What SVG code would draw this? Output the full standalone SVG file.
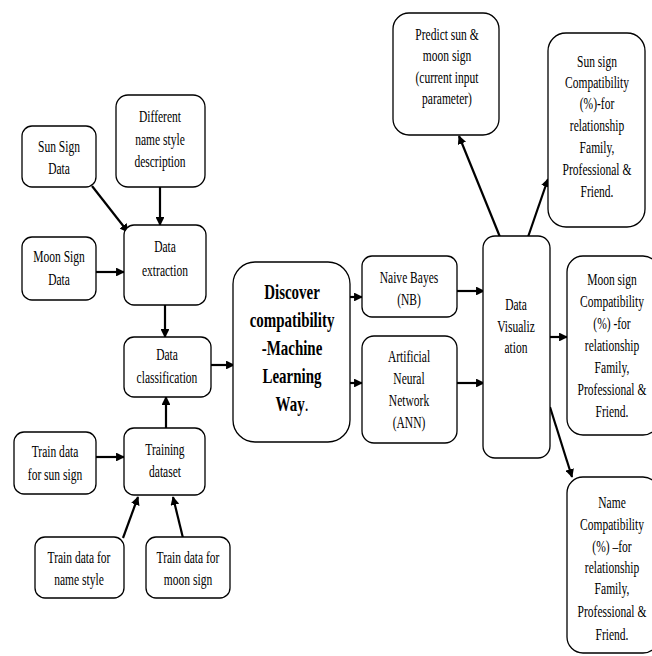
<svg xmlns="http://www.w3.org/2000/svg" width="652" height="656" viewBox="0 0 652 656">
<defs>
<style>
.box{fill:#fff;stroke:#000;stroke-width:1.3}
.t{font-family:"Liberation Serif","Times New Roman","DejaVu Serif",serif;font-size:16px;text-anchor:middle;fill:#000}
.b{font-family:"Liberation Serif","Times New Roman","DejaVu Serif",serif;font-size:22px;font-weight:bold;text-anchor:middle;fill:#000}
.c{stroke:#000;stroke-width:2.2;fill:none;marker-end:url(#ah)}
</style>
<marker id="ah" viewBox="0 0 10 10" refX="9" refY="5" markerWidth="4" markerHeight="4" orient="auto" markerUnits="strokeWidth">
<path d="M0,0 L10,5 L0,10 z" fill="#000"/>
</marker>
</defs>
<rect width="652" height="656" fill="#fff"/>
<g id="connectors">
<line class="c" x1="92" y1="186" x2="128" y2="232"/>
<line class="c" x1="160" y1="187" x2="160" y2="225"/>
<line class="c" x1="96" y1="272" x2="124" y2="272"/>
<line class="c" x1="165" y1="305" x2="165" y2="337"/>
<line class="c" x1="166" y1="428" x2="166" y2="397"/>
<line class="c" x1="96" y1="457" x2="124" y2="457"/>
<line class="c" x1="123" y1="538" x2="138" y2="497"/>
<line class="c" x1="183" y1="538" x2="173" y2="497"/>
<line class="c" x1="211" y1="365" x2="234" y2="365"/>
<line class="c" x1="350" y1="297" x2="362" y2="297"/>
<line class="c" x1="350" y1="383" x2="362" y2="383"/>
<line class="c" x1="457" y1="291" x2="484" y2="291"/>
<line class="c" x1="457" y1="383" x2="484" y2="383"/>
<line class="c" x1="500" y1="237" x2="459" y2="136"/>
<line class="c" x1="528" y1="237" x2="548" y2="179"/>
<line class="c" x1="550" y1="337" x2="567" y2="337"/>
<line class="c" x1="550" y1="407" x2="572" y2="477"/>
</g>
<g id="sun-sign-data"><rect class="box" x="22" y="126" width="74" height="61" rx="10"/><g transform="translate(59,0) scale(0.72,1)"><text class="t" x="0" y="152">Sun Sign</text><text class="t" x="0" y="174">Data</text></g></g>
<g id="name-style"><rect class="box" x="116" y="95" width="89" height="92" rx="12"/><g transform="translate(160,0) scale(0.72,1)"><text class="t" x="0" y="122">Different</text><text class="t" x="0" y="145">name style</text><text class="t" x="0" y="167">description</text></g></g>
<g id="moon-sign-data"><rect class="box" x="22" y="237" width="74" height="63" rx="10"/><g transform="translate(59,0) scale(0.72,1)"><text class="t" x="0" y="262">Moon Sign</text><text class="t" x="0" y="285">Data</text></g></g>
<g id="data-extraction"><rect class="box" x="124" y="225" width="82" height="80" rx="10"/><g transform="translate(165,0) scale(0.72,1)"><text class="t" x="0" y="252">Data</text><text class="t" x="0" y="276">extraction</text></g></g>
<g id="data-classification"><rect class="box" x="124" y="337" width="87" height="60" rx="10"/><g transform="translate(167,0) scale(0.72,1)"><text class="t" x="0" y="360">Data</text><text class="t" x="0" y="383">classification</text></g></g>
<g id="training-dataset"><rect class="box" x="124" y="428" width="81" height="67" rx="10"/><g transform="translate(165,0) scale(0.72,1)"><text class="t" x="0" y="455">Training</text><text class="t" x="0" y="477">dataset</text></g></g>
<g id="train-sun"><rect class="box" x="14" y="432" width="82" height="62" rx="10"/><g transform="translate(55,0) scale(0.72,1)"><text class="t" x="0" y="457">Train data</text><text class="t" x="0" y="480">for sun sign</text></g></g>
<g id="train-name"><rect class="box" x="35" y="537" width="89" height="61" rx="10"/><g transform="translate(79,0) scale(0.72,1)"><text class="t" x="0" y="563">Train data for</text><text class="t" x="0" y="585">name style</text></g></g>
<g id="train-moon"><rect class="box" x="146" y="537" width="84" height="61" rx="10"/><g transform="translate(188,0) scale(0.72,1)"><text class="t" x="0" y="563">Train data for</text><text class="t" x="0" y="585">moon sign</text></g></g>
<g id="discover"><rect class="box" x="233" y="262" width="117" height="180" rx="22"/><g transform="translate(292,0) scale(0.68,1)"><text class="b" x="0" y="299">Discover</text><text class="b" x="0" y="327">compatibility</text><text class="b" x="0" y="355">-Machine</text><text class="b" x="0" y="383">Learning</text><text class="b" x="0" y="411">Way<tspan font-weight="normal">.</tspan></text></g></g>
<g id="naive-bayes"><rect class="box" x="362" y="256" width="95" height="61" rx="10"/><g transform="translate(409,0) scale(0.72,1)"><text class="t" x="0" y="283">Naive Bayes</text><text class="t" x="0" y="305">(NB)</text></g></g>
<g id="ann"><rect class="box" x="362" y="336" width="95" height="107" rx="12"/><g transform="translate(409,0) scale(0.72,1)"><text class="t" x="0" y="362">Artificial</text><text class="t" x="0" y="384">Neural</text><text class="t" x="0" y="406">Network</text><text class="t" x="0" y="428">(ANN)</text></g></g>
<g id="data-visualization"><rect class="box" x="483" y="236" width="67" height="222" rx="12"/><g transform="translate(516,0) scale(0.72,1)"><text class="t" x="0" y="310">Data</text><text class="t" x="0" y="332">Visualiz</text><text class="t" x="0" y="353">ation</text></g></g>
<g id="predict"><rect class="box" x="393" y="13" width="106" height="122" rx="16"/><g transform="translate(447,0) scale(0.72,1)"><text class="t" x="0" y="40">Predict sun &amp;</text><text class="t" x="0" y="61">moon sign</text><text class="t" x="0" y="83">(current input</text><text class="t" x="0" y="104">parameter)</text></g></g>
<g id="sun-compat"><rect class="box" x="548" y="33" width="97" height="194" rx="18"/><g transform="translate(597,0) scale(0.72,1)"><text class="t" x="0" y="67">Sun sign</text><text class="t" x="0" y="88">Compatibility</text><text class="t" x="0" y="109">(%)-for</text><text class="t" x="0" y="131">relationship</text><text class="t" x="0" y="153">Family,</text><text class="t" x="0" y="175">Professional &amp;</text><text class="t" x="0" y="197">Friend.</text></g></g>
<g id="moon-compat"><rect class="box" x="567" y="256" width="92" height="179" rx="16"/><g transform="translate(612,0) scale(0.72,1)"><text class="t" x="0" y="285">Moon sign</text><text class="t" x="0" y="307">Compatibility</text><text class="t" x="0" y="329">(%) -for</text><text class="t" x="0" y="351">relationship</text><text class="t" x="0" y="373">Family,</text><text class="t" x="0" y="395">Professional &amp;</text><text class="t" x="0" y="417">Friend.</text></g></g>
<g id="name-compat"><rect class="box" x="567" y="477" width="92" height="176" rx="16"/><g transform="translate(612,0) scale(0.72,1)"><text class="t" x="0" y="508">Name</text><text class="t" x="0" y="530">Compatibility</text><text class="t" x="0" y="552">(%) –for</text><text class="t" x="0" y="573">relationship</text><text class="t" x="0" y="594">Family,</text><text class="t" x="0" y="617">Professional &amp;</text><text class="t" x="0" y="640">Friend.</text></g></g>
</svg>
